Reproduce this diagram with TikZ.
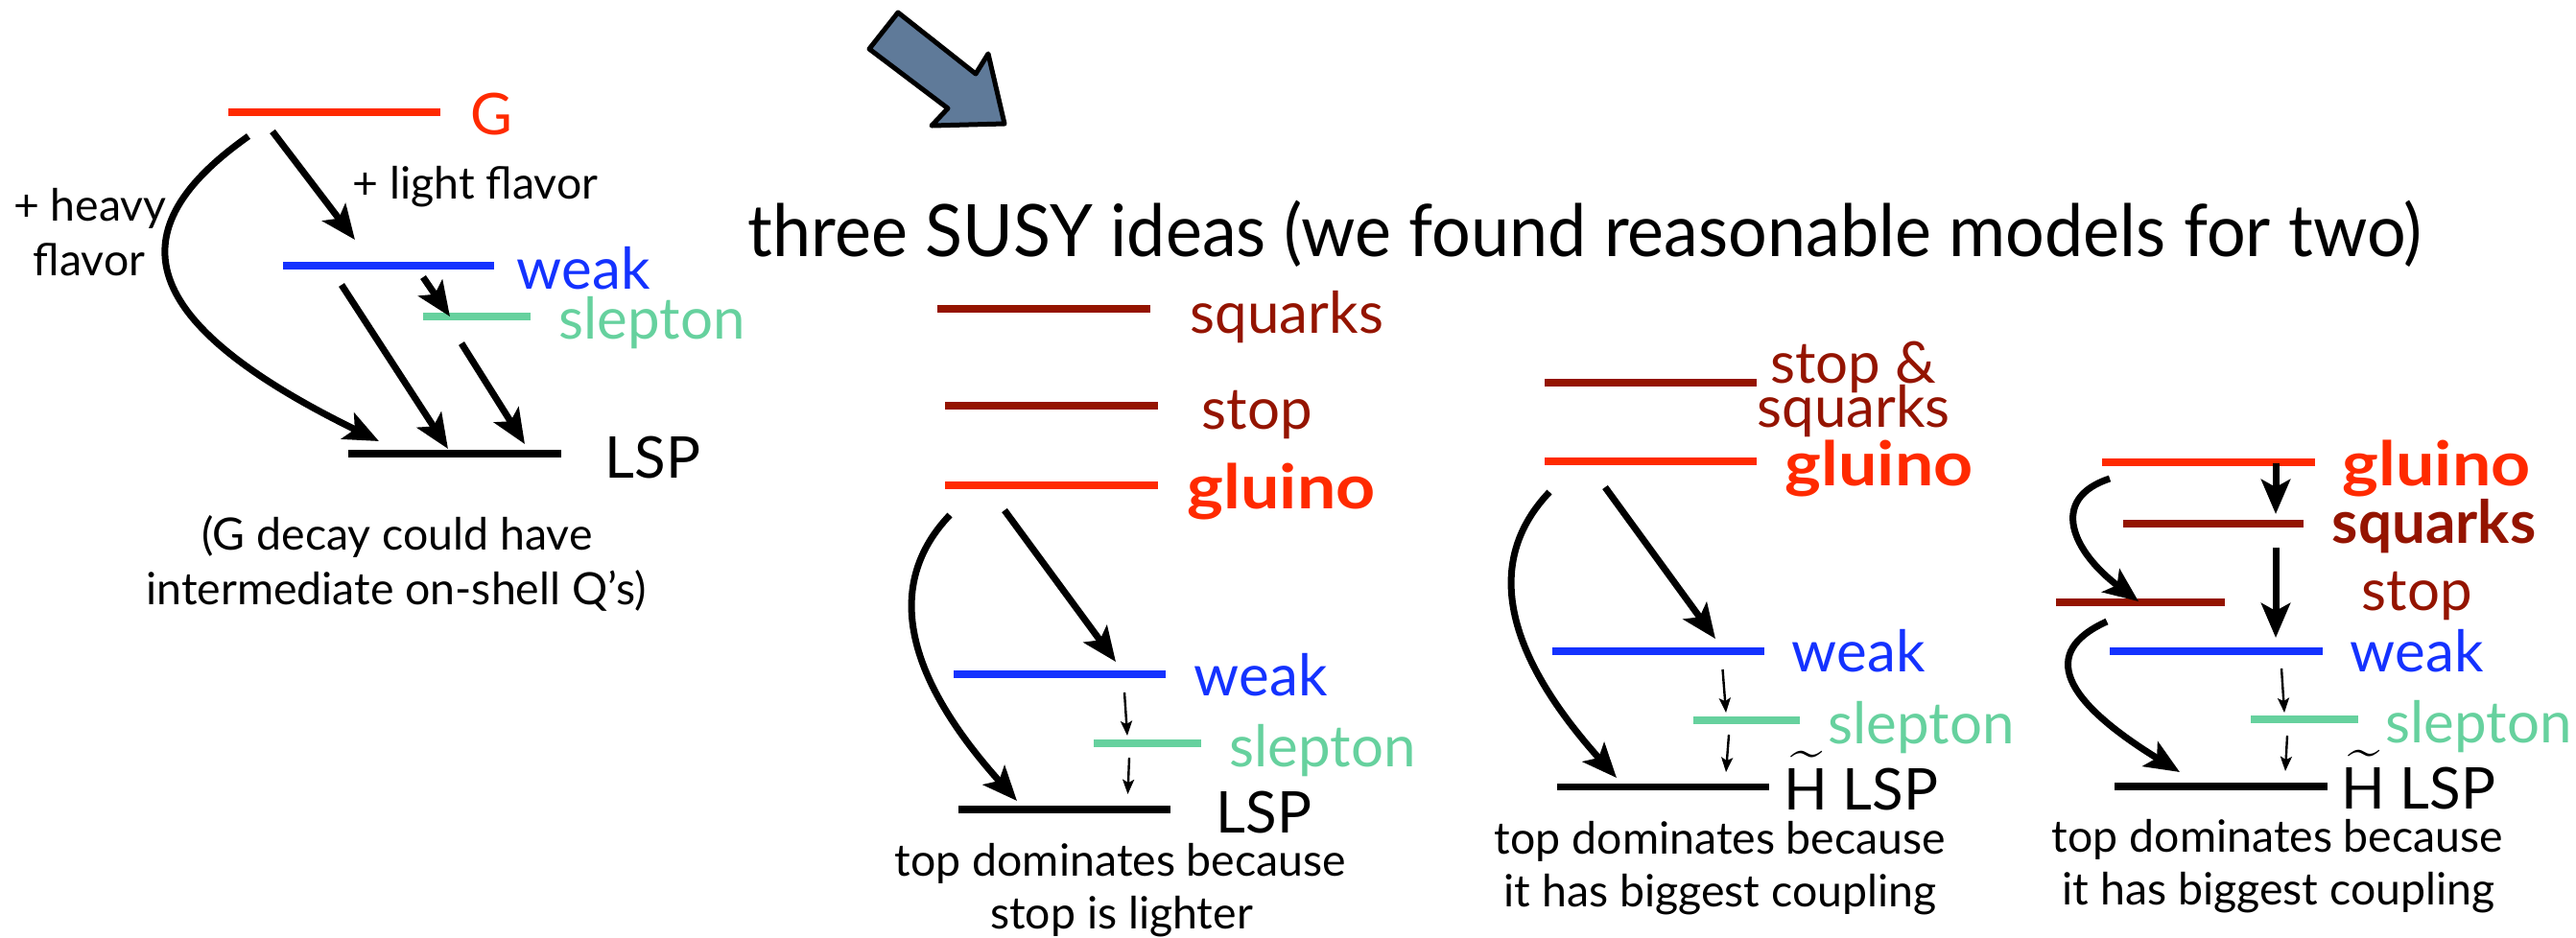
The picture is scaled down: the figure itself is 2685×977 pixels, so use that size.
\documentclass[tikz,border=0pt]{standalone}
\usepackage{amssymb,amsmath}
\usepackage{fontspec}
\setmainfont{Lato}
\usetikzlibrary{arrows.meta}

\definecolor{gluinored}{RGB}{255,42,0}
\definecolor{squarkred}{RGB}{148,20,0}
\definecolor{weakblue}{RGB}{20,50,255}
\definecolor{sleptongreen}{RGB}{102,209,158}
\definecolor{bigarrowblue}{RGB}{95,122,153}

\begin{document}
\begin{tikzpicture}[x=0.25pt,y=0.25pt,yscale=-1,xscale=1,
  lvl/.style={line width=1.8pt},
  decay/.style={line width=1.75pt,-{Stealth[length=9pt,width=7.5pt,inset=2pt]}},
  smalldecay/.style={line width=0.6pt,-{Stealth[length=3.8pt,width=3pt,inset=0.8pt]}},
  lbl/.style={anchor=base west,inner sep=0pt,font=\fontsize{15}{18}\selectfont},
  boldlbl/.style={lbl,font=\fontsize{16}{18}\selectfont\bfseries\addfontfeatures{FakeStretch=1.12}},
  note/.style={anchor=base,inner sep=0pt,font=\fontsize{11.6}{13}\selectfont}]
\useasboundingbox (0,0) rectangle (2685,977);

%Shape: Big Arrow
\draw [line width=1.25pt,line join=round,fill=bigarrowblue] (936,13) -- (906,51) -- (988,113) -- (971,131) -- (1047,129) -- (1030,56) -- (1017,77) -- cycle ;

% Text Node
\draw (779,267) node [anchor=base west][inner sep=0pt,font=\fontsize{18.85}{22}\selectfont\addfontfeatures{FakeStretch=0.953}] (title) {three SUSY ideas (we found reasonable models for two)};

%%%% left: G decay
%Straight Lines
\draw [lvl,gluinored] (238,117) -- (459,117) ;
\draw [lvl,weakblue] (295,277) -- (515,277) ;
\draw [lvl,sleptongreen] (441,330) -- (553,330) ;
\draw [lvl] (363,473) -- (585,473) ;

% Text Node
\draw (490,140) node [lbl,text=gluinored] (aG) {G};
\draw (538,301) node [lbl,text=weakblue] (aweak) {weak};
\draw (582,353) node [lbl,text=sleptongreen] (aslep) {slepton};
\draw (630,498) node [lbl] (aLSP) {LSP};
\draw (367,207) node [note,anchor=base west] (alight) {+ light flavor};
\draw (94,230) node [note] (aheavy) {+ heavy};
\draw (93,287) node [note] (aflavor) {flavor};
\draw (414,573) node [note] (adecay) {(G decay could have};
\draw (413,630) node [note] (ainter) {intermediate on-shell Q’s)};

\coordinate (aG1) at (259,142);
\coordinate (aG2) at (284,137);
\coordinate (aW0) at (370,250);
\coordinate (aW1) at (356,297);
\coordinate (aW2) at (441,289);
\coordinate (aS0) at (469,330);
\coordinate (aS1) at (481,358);
\coordinate (aL0) at (395,460);
\coordinate (aL1) at (467,468);
\coordinate (aL2) at (547,463);

%Curve Lines
\draw [decay] (aG2) -- (aW0) ;
\draw [decay] (aG1) .. controls (120,240) and (140,335) .. (aL0) ;
\draw [decay] (aW1) -- (aL1) ;
\draw [decay] (aW2) -- (aS0) ;
\draw [decay] (aS1) -- (aL2) ;

%%%% idea 1
%Straight Lines
\draw [lvl,squarkred] (977,322) -- (1199,322) ;
\draw [lvl,squarkred] (985,423) -- (1207,423) ;
\draw [lvl,gluinored] (985,506) -- (1207,506) ;
\draw [lvl,weakblue] (994,703) -- (1215,703) ;
\draw [lvl,sleptongreen] (1140,775) -- (1252,775) ;
\draw [lvl] (999,844) -- (1220,844) ;

% Text Node
\draw (1240,347) node [lbl,text=squarkred] (bsq) {squarks};
\draw (1252,447) node [lbl,text=squarkred] (bstop) {stop};
\draw (1237,530) node [boldlbl,text=gluinored] (bglu) {gluino};
\draw (1244,725) node [lbl,text=weakblue] (bweak) {weak};
\draw (1281,799) node [lbl,text=sleptongreen] (bslep) {slepton};
\draw (1267,868) node [lbl] (bLSP) {LSP};
\draw (1168,913) node [note] (btop) {top dominates because};
\draw (1169,968) node [note] (bstopl) {stop is lighter};

\coordinate (bG1) at (990,537);
\coordinate (bG2) at (1047,532);
\coordinate (bW0) at (1163,690);
\coordinate (bW1) at (1172,722);
\coordinate (bS0) at (1175,767);
\coordinate (bS1) at (1177,790);
\coordinate (bL0) at (1060,835);
\coordinate (bL1) at (1175.5,828);

%Curve Lines
\draw [decay] (bG2) -- (bW0) ;
\draw [decay] (bG1) .. controls (930,600) and (930,690) .. (bL0) ;
\draw [smalldecay] (bW1) -- (bS0) ;
\draw [smalldecay] (bS1) -- (bL1) ;

%%%% idea 2
%Straight Lines
\draw [lvl,squarkred] (1610,399) -- (1831,399) ;
\draw [lvl,gluinored] (1610,481) -- (1831,481) ;
\draw [lvl,weakblue] (1618,679) -- (1839,679) ;
\draw [lvl,sleptongreen] (1765,751) -- (1876,751) ;
\draw [lvl] (1623,820.5) -- (1844,820.5) ;

% Text Node
\draw (1932,399) node [lbl,anchor=base,text=squarkred] (cstop) {stop \&};
\draw (1932,445) node [lbl,anchor=base,text=squarkred] (csq) {squarks};
\draw (1860,506) node [boldlbl,text=gluinored] (cglu) {gluino};
\draw (1867,700) node [lbl,text=weakblue] (cweak) {weak};
\draw (1905,775) node [lbl,text=sleptongreen] (cslep) {slepton};
\draw (1859,844) node [lbl] (cLSP) {$\widetilde{\text{H}}$ LSP};
\draw (1793,890) node [note] (ctop) {top dominates because};
\draw (1793,945) node [note] (cbig) {it has biggest coupling};

\coordinate (cG1) at (1615,513);
\coordinate (cG2) at (1673,508);
\coordinate (cW0) at (1788,666);
\coordinate (cW1) at (1795.5,698);
\coordinate (cS0) at (1799,743);
\coordinate (cS1) at (1802,766);
\coordinate (cL0) at (1685,811);
\coordinate (cL1) at (1799,805);

%Curve Lines
\draw [decay] (cG2) -- (cW0) ;
\draw [decay] (cG1) .. controls (1555,576) and (1555,666) .. (cL0) ;
\draw [smalldecay] (cW1) -- (cS0) ;
\draw [smalldecay] (cS1) -- (cL1) ;

%%%% idea 3
%Straight Lines
\draw [lvl,gluinored] (2191,482) -- (2413,482) ;
\draw [lvl,squarkred] (2213,546) -- (2401,546) ;
\draw [lvl,squarkred] (2143,628) -- (2319,628) ;
\draw [lvl,weakblue] (2199,679) -- (2421,679) ;
\draw [lvl,sleptongreen] (2346,750) -- (2458,750) ;
\draw [lvl] (2204,820) -- (2426,820) ;

% Text Node
\draw (2441,506) node [boldlbl,text=gluinored] (dglu) {gluino};
\draw (2430,566) node [lbl,text=squarkred,font=\fontsize{15.5}{18}\selectfont\bfseries] (dsq) {squarks};
\draw (2461,636) node [lbl,text=squarkred] (dstop) {stop};
\draw (2449,700) node [lbl,text=weakblue] (dweak) {weak};
\draw (2486,774) node [lbl,text=sleptongreen] (dslep) {slepton};
\draw (2440,843) node [lbl] (dLSP) {$\widetilde{\text{H}}$ LSP};
\draw (2374,888) node [note] (dtop) {top dominates because};
\draw (2375,943) node [note] (dbig) {it has biggest coupling};

\coordinate (dG1) at (2199,499);
\coordinate (dG2) at (2372,483);
\coordinate (dQ0) at (2372,536);
\coordinate (dQ1) at (2372,571);
\coordinate (dT0) at (2229,627);
\coordinate (dT1) at (2196,648);
\coordinate (dW0) at (2372,665);
\coordinate (dW1) at (2378,697);
\coordinate (dS0) at (2381,743);
\coordinate (dS1) at (2384,767);
\coordinate (dL0) at (2272,805);
\coordinate (dL1) at (2382,804);

%Curve Lines
\draw [decay] (dG2) -- (dQ0) ;
\draw [decay] (dQ1) -- (dW0) ;
\draw [decay] (dG1) .. controls (2135,520) and (2160,575) .. (dT0) ;
\draw [decay] (dT1) .. controls (2125,680) and (2150,730) .. (dL0) ;
\draw [smalldecay] (dW1) -- (dS0) ;
\draw [smalldecay] (dS1) -- (dL1) ;

\end{tikzpicture}
\end{document}
